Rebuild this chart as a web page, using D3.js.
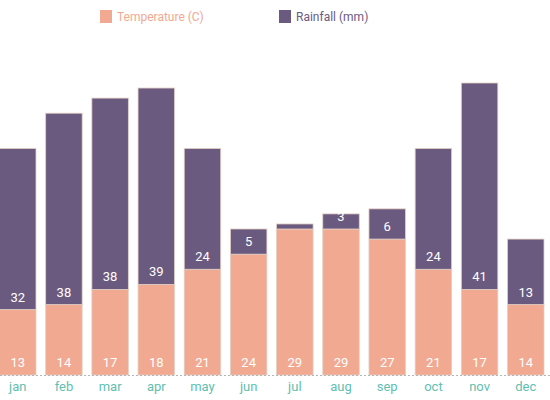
<!DOCTYPE html>
<html>
<head>
<meta charset="utf-8">
<script src="https://cdn.jsdelivr.net/npm/d3@7"></script>
<style>
  body { margin: 0; background: #fff; }
  svg { display: block; font-family: Roboto, "Noto Sans", sans-serif; }
</style>
</head>
<body>
<div id="container"></div>
<script>
// les données du graphe
const months = ["jan", "feb", "mar", "apr", "may", "jun", "jul", "aug", "sep", "oct", "nov", "dec"];
const temperature = [13, 14, 17, 18, 21, 24, 29, 29, 27, 21, 17, 14];
const rainfall = [32, 38, 38, 39, 24, 5, 1, 3, 6, 24, 41, 13];
const seriesNames = ["Temperature (C)", "Rainfall (mm)"];
const colors = ["#f2a991", "#6b5a7f"];

const width = 550;
const height = 400;
const baseY = 375;

const svg = d3.select("#container").append("svg")
    .attr("width", width)
    .attr("height", height);

const table = months.map((m, i) => ({month: m, temp: temperature[i], rain: rainfall[i]}));
const stacked = d3.stack().keys(["temp", "rain"])(table);

const x = d3.scaleBand()
    .domain(months)
    .range([-0.5, 544])
    .paddingInner(0.21)
    .paddingOuter(0);

const y = d3.scaleLinear()
    .domain([0, 58])
    .range([baseY, 83]);

// les barres empilées
const layers = svg.append("g")
    .selectAll("g")
    .data(stacked)
    .join("g")
    .attr("fill", (d, i) => colors[i]);

layers.selectAll("rect")
    .data(d => d)
    .join("rect")
    .attr("x", d => x(d.data.month))
    .attr("width", x.bandwidth())
    .attr("y", d => y(d[1]))
    .attr("height", d => y(d[0]) - y(d[1]))
    .attr("stroke", "#e3cfc4")
    .attr("stroke-width", 0.8);

// les valeurs dans les barres
layers.selectAll("text")
    .data(d => d.map(v => ({v, key: d.key})))
    .join("text")
    .filter(d => y(d.v[0]) - y(d.v[1]) > 10)
    .attr("x", d => x(d.v.data.month) + x.bandwidth() / 2)
    .attr("y", d => y(d.v[0]) - 8)
    .attr("text-anchor", "middle")
    .attr("fill", "#fff")
    .attr("font-size", 13)
    .text(d => d.v.data[d.key]);

// la ligne de base pointillée
svg.append("line")
    .attr("x1", 0)
    .attr("x2", width)
    .attr("y1", baseY + 0.5)
    .attr("y2", baseY + 0.5)
    .attr("stroke", "#b5b5b5")
    .attr("stroke-width", 1)
    .attr("stroke-dasharray", "2,2");

// l'axe des mois
const xAxis = svg.append("g")
    .attr("transform", `translate(0,${baseY})`)
    .call(d3.axisBottom(x).tickSize(0).tickPadding(7));
xAxis.select(".domain").remove();
xAxis.selectAll("text")
    .attr("fill", "#5fc0b1")
    .attr("font-size", 13)
    .attr("font-family", "Roboto, sans-serif");

// la légende
const legendX = [100, 279];
const legend = svg.append("g")
    .selectAll("g")
    .data(seriesNames)
    .join("g")
    .attr("transform", (d, i) => `translate(${legendX[i]},10)`);

legend.append("rect")
    .attr("width", 12)
    .attr("height", 13)
    .attr("fill", (d, i) => colors[i]);

legend.append("text")
    .attr("x", 17)
    .attr("y", 11)
    .attr("font-size", 12)
    .attr("fill", (d, i) => colors[i])
    .text(d => d);
</script>
</body>
</html>
